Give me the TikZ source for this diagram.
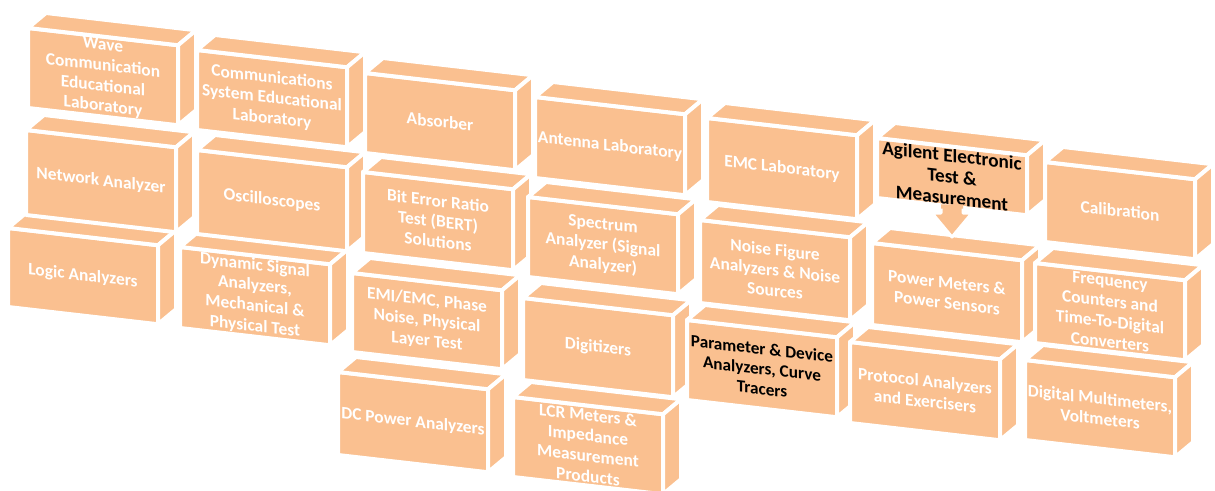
\documentclass[tikz,border=0pt]{standalone}
\usepackage{fontspec}
\setmainfont{Carlito}
\usetikzlibrary{calc,positioning}
\definecolor{brick}{RGB}{250,192,144}
\tikzstyle{front}=[
	rectangle,
	fill=brick,
	draw=white,
	line width=2pt,
	line join=round,
	anchor=north west,
	minimum width=75pt,
	inner sep=1pt,
	outer sep=0pt,
	yslant=-0.115,
	align=center,
	text=white,
	font=\bfseries\fontsize{8.7}{10.2}\selectfont
]
\tikzstyle{face}=[
	fill=brick,
	draw=white,
	line width=2pt,
	line join=round
]
\tikzstyle{dark}=[
	text=black,
	font=\bfseries\fontsize{9.6}{10.6}\selectfont
]
\tikzstyle{darksmall}=[
	text=black,
	font=\bfseries\fontsize{8.6}{10}\selectfont
]
% name, left x, top y, height, text (pixel units)
\newcommand{\brick}[6][]{%
	\node [front, #1, minimum height=#5*0.5pt] (#2) at (#3,#4) {#6};
	\path [face] (#2.north west) -- ++(18,-15) -- ([shift={(18,-15)}]#2.north east) -- (#2.north east) -- cycle;
	\path [face] (#2.north east) -- ++(18,-15) -- ([shift={(18,-15)}]#2.south east) -- (#2.south east) -- cycle;
}

\begin{document}
\begin{tikzpicture}[x=0.5pt,y=-0.5pt]
\useasboundingbox (0,0) rectangle (1215,491);
% bottom rows first, upper bricks sit on top
\brick{dcpower}{338}{372}{83}{DC Power Analyzers}
\brick{lcr}{513}{397}{80}{LCR Meters \&\\Impedance\\Measurement\\Products}
\brick{logic}{8}{228}{79}{Logic Analyzers}
\brick{dynamic}{180}{247}{81}{Dynamic Signal\\Analyzers,\\Mechanical \&\\Physical Test}
\brick{emi}{352}{273}{79}{EMI/EMC, Phase\\Noise, Physical\\Layer Test}
\brick{digitizer}{523}{298}{82}{Digitizers}
\brick[darksmall]{param}{687}{320}{80}{Parameter \& Device\\Analyzers, Curve\\Tracers}
\brick{protocol}{850}{342}{81}{Protocol Analyzers\\and Exercisers}
\brick{dmm}{1025}{360}{80}{Digital Multimeters,\\Voltmeters}
\brick{network}{26}{130}{85}{Network Analyzer}
\brick{scope}{197}{150}{84}{Oscilloscopes}
\brick{bert}{363}{172}{81}{Bit Error Ratio\\Test (BERT)\\Solutions}
\brick{spectrum}{528}{197}{80}{Spectrum\\Analyzer (Signal\\Analyzer)}
\brick{noise}{700}{220}{83}{Noise Figure\\Analyzers \& Noise\\Sources}
\brick{power}{872}{243}{82}{Power Meters \&\\Power Sensors}
\brick{freq}{1035}{263}{80}{Frequency\\Counters and\\Time-To-Digital\\Converters}
\brick{wave}{28}{28}{80}{Wave\\Communication\\Educational\\Laboratory}
\brick{commsys}{197}{50}{80}{Communications\\System Educational\\Laboratory}
\brick{absorber}{365}{73}{80}{Absorber}
\brick{antenna}{535}{97}{81}{Antenna Laboratory}
\brick{emc}{707}{118}{84}{EMC Laboratory}
\brick[dark]{agilent}{877}{138}{55}{Agilent Electronic\\Test \&\\Measurement}
\brick{calib}{1045}{162}{80}{Calibration}
% block arrow down to the power meters
\fill [brick] let \p1=(agilent.south), \p2=([yshift=7.3pt]power.north) in
	(\x1-5.5pt,\y1+1.1pt) -- (\x1-5.5pt,\y2+12pt) -- (\x1-10pt,\y2+12pt) -- (\x1,\y2)
	-- (\x1+10pt,\y2+12pt) -- (\x1+5.5pt,\y2+12pt) -- (\x1+5.5pt,\y1+1.1pt) -- cycle;
\draw [white, line width=1.5pt, line join=round] let \p1=(agilent.south), \p2=([yshift=7.3pt]power.north) in
	(\x1-5.5pt,\y1-1pt) -- (\x1-5.5pt,\y2+12pt) -- (\x1-10pt,\y2+12pt) -- (\x1,\y2)
	-- (\x1+10pt,\y2+12pt) -- (\x1+5.5pt,\y2+12pt) -- (\x1+5.5pt,\y1-1pt);
\end{tikzpicture}
\end{document}
